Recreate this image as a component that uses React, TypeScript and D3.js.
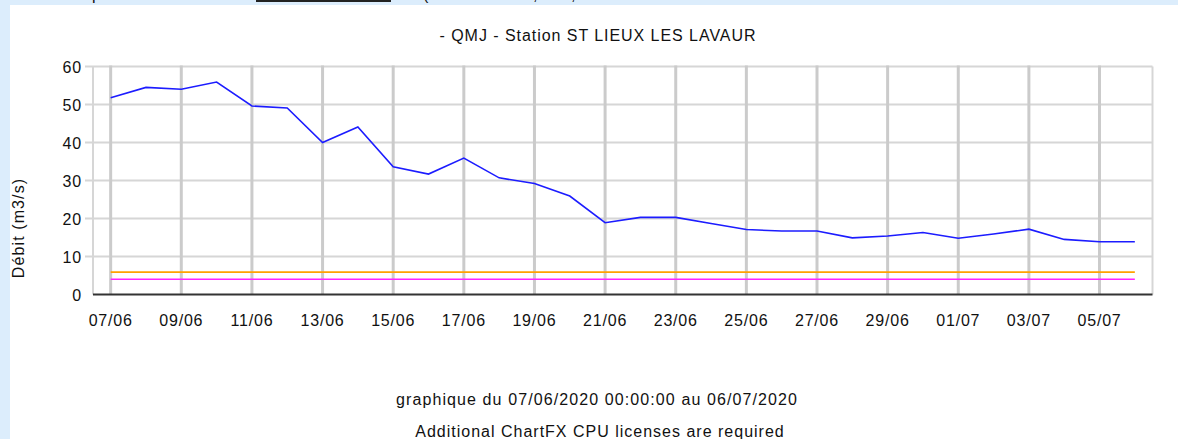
import React, { useEffect, useRef } from "react";
import * as d3 from "d3";

// QMJ - débit moyen journalier, du 07/06/2020 au 06/07/2020
const dates = [
    "07/06", "08/06", "09/06", "10/06", "11/06", "12/06", "13/06", "14/06", "15/06", "16/06",
    "17/06", "18/06", "19/06", "20/06", "21/06", "22/06", "23/06", "24/06", "25/06", "26/06",
    "27/06", "28/06", "29/06", "30/06", "01/07", "02/07", "03/07", "04/07", "05/07", "06/07",
];
const debit = [
    51.8, 54.5, 54.0, 55.9, 49.6, 49.1, 40.0, 44.1, 33.6, 31.7,
    35.9, 30.7, 29.2, 25.9, 18.9, 20.3, 20.3, 18.7, 17.1, 16.7,
    16.7, 14.9, 15.4, 16.3, 14.8, 15.9, 17.2, 14.5, 13.9, 13.9,
];
const seuils = [5.9, 4.0];
const seuilColors = ["#ffa200", "#ff22ff"];
const yTicks = [0, 10, 20, 30, 40, 50, 60];

const title = "- QMJ - Station ST LIEUX LES LAVAUR";
const yLabel = "Débit (m3/s)";
const footer1 = "graphique du 07/06/2020 00:00:00 au 06/07/2020";
const footer2 = "Additional ChartFX CPU licenses are required";

const W = 1178;
const H = 439;
const FONT = "'Liberation Sans', Arial, sans-serif";

const App = () => {
    const svgRef = useRef(null);

    useEffect(() => {
        const svg = d3.select(svgRef.current);
        svg.selectAll("*").remove();

        const left = 93, right = 1152.5, top = 66.5, bottom = 294.5;

        const x = d3.scaleLinear().domain([-0.5, dates.length - 0.5]).range([left, right]);
        const y = d3.scaleLinear().domain([0, 60]).range([bottom, top]);

        // page background + white panel
        svg.append("rect").attr("width", W).attr("height", H).attr("fill", "#dcedfc");
        svg.append("rect").attr("x", 10).attr("y", 5).attr("width", W - 10).attr("height", H - 5).attr("fill", "#fff");

        // bits of the line above, cut off by the frame
        const topText = svg.append("text")
            .attr("y", 0)
            .attr("font-family", FONT)
            .attr("font-size", 16)
            .attr("fill", "#111");
        topText.append("tspan").attr("x", 92).text("p");
        topText.append("tspan").attr("x", 423).text("(");
        topText.append("tspan").attr("x", 533).text(",");
        topText.append("tspan").attr("x", 571).text(",");
        svg.append("rect").attr("x", 256).attr("y", 0).attr("width", 135).attr("height", 2).attr("fill", "#222");

        const g = svg.append("g");

        // horizontal grid + ticks
        g.selectAll("line.hgrid")
            .data(yTicks.filter((d) => d > 0))
            .enter()
            .append("line")
            .attr("class", "hgrid")
            .attr("x1", left - 8)
            .attr("x2", right)
            .attr("y1", (d) => y(d))
            .attr("y2", (d) => y(d))
            .attr("stroke", "#d6d6d6")
            .attr("stroke-width", 2);

        // plot frame (left / right)
        g.append("line").attr("x1", left).attr("x2", left).attr("y1", top).attr("y2", bottom)
            .attr("stroke", "#d6d6d6").attr("stroke-width", 2);
        g.append("line").attr("x1", right).attr("x2", right).attr("y1", top).attr("y2", bottom)
            .attr("stroke", "#d6d6d6").attr("stroke-width", 2);

        // vertical grid, one every two days
        const labelIdx = d3.range(0, dates.length, 2);
        g.selectAll("line.vgrid")
            .data(labelIdx)
            .enter()
            .append("line")
            .attr("class", "vgrid")
            .attr("x1", (i) => x(i))
            .attr("x2", (i) => x(i))
            .attr("y1", top - 1)
            .attr("y2", bottom)
            .attr("stroke", "#cbcbcb")
            .attr("stroke-width", 3);

        // x axis line
        g.append("line").attr("x1", left).attr("x2", right).attr("y1", bottom).attr("y2", bottom)
            .attr("stroke", "#333").attr("stroke-width", 2);

        // thresholds
        seuils.forEach((s, k) => {
            g.append("line")
                .attr("x1", x(0))
                .attr("x2", x(dates.length - 1))
                .attr("y1", y(s))
                .attr("y2", y(s))
                .attr("stroke", seuilColors[k])
                .attr("stroke-width", 1.6);
        });

        // débit
        const line = d3.line()
            .x((d, i) => x(i))
            .y((d) => y(d));
        g.append("path")
            .datum(debit)
            .attr("d", line)
            .attr("fill", "none")
            .attr("stroke", "#1c1cff")
            .attr("stroke-width", 1.6);

        const txt = (sel, spacing = 0.8) => sel
            .attr("font-family", FONT)
            .attr("font-size", 16)
            .attr("letter-spacing", spacing)
            .attr("fill", "#111");

        // y labels
        g.selectAll("text.ytick")
            .data(yTicks)
            .enter()
            .append("text")
            .attr("class", "ytick")
            .attr("x", 82)
            .attr("y", (d) => y(d) + 6)
            .attr("text-anchor", "end")
            .text((d) => d)
            .call(txt);

        // x labels
        g.selectAll("text.xtick")
            .data(labelIdx)
            .enter()
            .append("text")
            .attr("class", "xtick")
            .attr("x", (i) => x(i))
            .attr("y", 326)
            .attr("text-anchor", "middle")
            .text((i) => dates[i])
            .call(txt);

        svg.append("text")
            .attr("transform", "translate(24,228) rotate(-90)")
            .attr("text-anchor", "middle")
            .text(yLabel)
            .call(txt, 1.1);

        svg.append("text").attr("x", 598).attr("y", 41).attr("text-anchor", "middle").text(title).call(txt, 0.95);
        svg.append("text").attr("x", 597).attr("y", 405).attr("text-anchor", "middle").text(footer1).call(txt, 1.1);
        svg.append("text").attr("x", 600).attr("y", 437).attr("text-anchor", "middle").text(footer2).call(txt, 1.0);
    }, []);

    return (
        <svg
            ref={svgRef}
            width={W}
            height={H}
            style={{ position: "absolute", left: 0, top: 0, display: "block" }}
        />
    );
};

export default App;
